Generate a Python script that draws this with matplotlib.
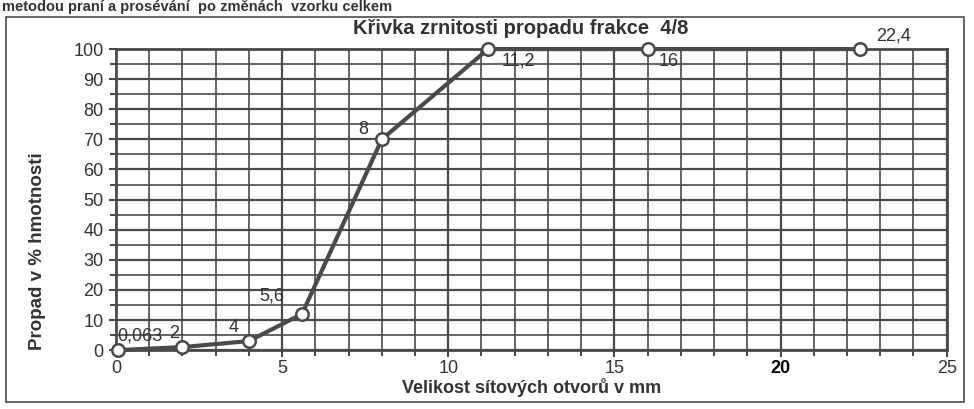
import matplotlib.pyplot as plt
from matplotlib.ticker import MultipleLocator
from matplotlib.patches import Rectangle

# sieve sizes (mm) and passing (%)
sieve_mm = [0.063, 2, 4, 5.6, 8, 11.2, 16, 22.4]
passing = [0, 1, 3, 12, 70, 100, 100, 100]
point_labels = ["0,063", "2", "4", "5,6", "8", "11,2", "16", "22,4"]
# label offsets in points (dx, dy)
label_offsets = [(16, 4), (-6, 4), (-11, 4), (-22, 7), (-13, 1), (22, -15), (15, -15), (24, 3)]

x_ticks = [0, 5, 10, 15, 20, 25]
y_ticks = list(range(0, 101, 10))

GRAY = "#4a4a4a"
TXT = "#333333"
plt.rcParams["font.family"] = ["Liberation Sans", "DejaVu Sans"]

fig = plt.figure(figsize=(9.74, 4.09), dpi=100)
ax = fig.add_axes([0.119, 0.144, 0.853, 0.736])

ax.set_xlim(0, 25)
ax.set_ylim(0, 100)
ax.set_xticks(x_ticks)
ax.set_yticks(y_ticks)
ax.xaxis.set_minor_locator(MultipleLocator(1))
ax.yaxis.set_minor_locator(MultipleLocator(5))
ax.grid(True, which="major", color=GRAY, lw=1.6)
ax.grid(True, which="minor", color=GRAY, lw=1.2)
ax.set_axisbelow(True)
for s in ax.spines.values():
    s.set_color(GRAY)
    s.set_linewidth(2)

ax.tick_params(which="both", direction="out", color=GRAY, width=1.5)
ax.tick_params(which="major", length=5, labelsize=13, labelcolor=TXT)
ax.tick_params(which="minor", length=4)
ax.tick_params(axis="x", pad=2)
ax.tick_params(axis="y", pad=4)
ax.get_xticklabels()[4].set_color("black")
ax.get_xticklabels()[4].set_fontweight("bold")

ax.plot(sieve_mm, passing, color=GRAY, lw=3, marker="o", ms=9,
        mfc="white", mec=GRAY, mew=1.8, zorder=5, clip_on=False)

for x, y, t, (dx, dy) in zip(sieve_mm, passing, point_labels, label_offsets):
    ax.annotate(t, (x, y), xytext=(dx, dy), textcoords="offset points",
                ha="center", va="bottom", fontsize=13, color=TXT,
                zorder=6, annotation_clip=False)

ax.set_xlabel("Velikost sítových otvorů v mm", fontsize=13, fontweight="bold",
              color=TXT, labelpad=1)
fig.text(0.039, 0.385, "Propad v % hmotnosti", rotation=90, fontsize=13.5,
         fontweight="bold", color=TXT, ha="center", va="center")

fig.text(0.535, 0.93, "Křivka zrnitosti propadu frakce  4/8", fontsize=14.5,
         fontweight="bold", color=TXT, ha="center", va="center")
fig.text(0.002, 0.999, "metodou praní a prosévání  po změnách  vzorku celkem",
         fontsize=10.5, fontweight="bold", color=TXT, ha="left", va="top")

fig.add_artist(Rectangle((0.006, 0.017), 0.984, 0.941, transform=fig.transFigure,
                         fill=False, ec=GRAY, lw=1.2))

fig.savefig("out.png", dpi=100)
